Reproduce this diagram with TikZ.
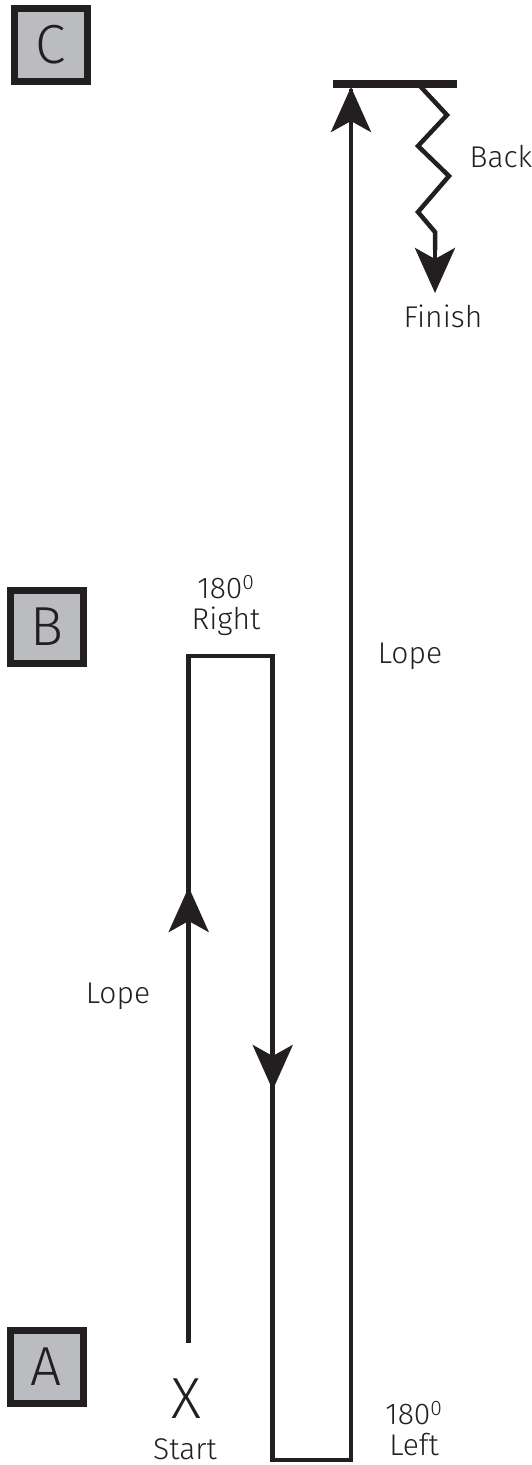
\documentclass[tikz,border=0pt]{standalone}
\usepackage{fontspec}
\setmainfont{Fira Sans}[UprightFont=* Light]
\usetikzlibrary{arrows.meta}
\definecolor{ink}{HTML}{231F20}
\definecolor{boxgray}{HTML}{BBBCC0}
\tikzset{
  lettbox/.style={draw=ink, fill=boxgray, line width=7pt, minimum width=73pt, minimum height=73pt, inner sep=0pt, font=\fontsize{55}{60}\selectfont, text=ink},
  route/.style={draw=ink, line width=4.5pt, line join=miter},
  tipped/.style={draw=ink, line width=4.5pt, -{Stealth[length=45pt, width=40pt, inset=11pt]}},
  lbl/.style={font=\fontsize{30}{31}\selectfont, text=ink, inner sep=0pt, align=center},
}
\begin{document}
\begin{tikzpicture}[x=1pt, y=-1pt]
\useasboundingbox (0,0) rectangle (532,1465);
% letter boxes
\node[lettbox] (C) at (50.5,45) {C};
\node[lettbox] (B) at (46.5,626.5) {B};
\node[lettbox] (A) at (46.5,1366.5) {A};
% route coordinates
\coordinate (s) at (188.7,1343);
\coordinate (tl) at (188.7,656);
\coordinate (tr) at (272.7,656);
\coordinate (bl) at (272.7,1460);
\coordinate (br) at (351,1460);
\coordinate (top) at (351,89);
\path[route] (s) -- (tl) -- (tr) -- (bl) -- (br) -- (top);
% mid arrows
\coordinate (ua0) at (188.7,960);
\coordinate (ua1) at (188.7,887);
\draw[tipped] (ua0) -- (ua1);
\coordinate (da0) at (272.7,1000);
\coordinate (da1) at (272.7,1090);
\draw[tipped] (da0) -- (da1);
\coordinate (ta0) at (351,200);
\coordinate (ta1) at (351,87);
\draw[tipped] (ta0) -- (ta1);
% top bar
\coordinate (barl) at (333,84);
\coordinate (barr) at (457,84);
\draw[draw=ink, line width=8pt] (barl) -- (barr);
% zigzag back
\coordinate (z0) at (420,86);
\coordinate (z1) at (447,115);
\coordinate (z2) at (418,146);
\coordinate (z3) at (449,176);
\coordinate (z4) at (418,212);
\coordinate (z5) at (435,232);
\coordinate (z6) at (435,293);
\coordinate (z5b) at (435,250);
\coordinate (z5c) at (435,245);
\draw[route] (z0) -- (z1) -- (z2) -- (z3) -- (z4) -- (z5) -- (z5b);
\draw[tipped] (z5c) -- (z6);
% labels
\node[lbl] (back) at (501,157) {Back};
\node[lbl] (finish) at (443,316) {Finish};
\node[lbl] (right) at (226,605) {180\textsuperscript{0}\\Right};
\node[lbl] (lope1) at (410,656) {Lope};
\node[lbl] (lope2) at (118,996) {Lope};
\node[font=\fontsize{58}{60}\selectfont, text=ink, inner sep=0pt] (X) at (186,1399) {X};
\node[lbl] (start) at (185,1449) {Start};
\node[lbl] (left) at (414,1429) {180\textsuperscript{0}\\Left};
\end{tikzpicture}
\end{document}
